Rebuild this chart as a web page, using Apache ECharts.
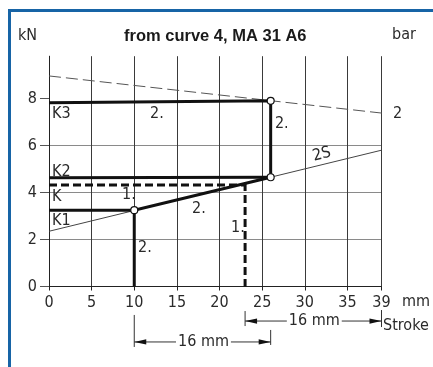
<!DOCTYPE html>
<html>
<head>
<meta charset="utf-8">
<script src="https://cdn.jsdelivr.net/npm/echarts@6/dist/echarts.min.js"></script>
<style>
  html, body { margin: 0; padding: 0; background: #fff; }
  #chart { width: 433px; height: 367px; }
</style>
</head>
<body>
<div id="chart"></div>
<script>
// Stroke axis (mm) and force axis (kN) ticks
const strokeTicks = [0, 5, 10, 15, 20, 25, 30, 35, 39];
const forceTicks = [0, 2, 4, 6, 8];

// Characteristic lines
const pressureLine = [[0, 8.96], [40, 7.34]];   // 2 bar line (thin dashed)
const springLine2S = [[0, 2.35], [39, 5.8]];    // 2S line (thin solid)

// Force paths (thick)
const pathK3 = [[0, 7.82], [26, 7.9], [26, 4.65]];
const pathK2 = [[0, 4.63], [26, 4.65]];
const pathK1 = [[0, 3.25], [10, 3.25], [26, 4.65]];
const dropK1 = [[10, 3.25], [10, 0]];
const pathK = [[0, 4.32], [23, 4.32]];
const dropK = [[23, 4.4], [23, 0]];
const knots = [[10, 3.25], [26, 4.65], [26, 7.9]];

// Annotations anchored in chart units: [stroke, force, text, rotation]
const tags = [
  [0.35, 7.34, 'K3', 0],
  [11.85, 7.34, '2.', 0],
  [26.5, 6.91, '2.', 0],
  [0.35, 4.87, 'K2', 0],
  [0.35, 3.81, 'K', 0],
  [8.56, 3.89, '1.', 0],
  [0.35, 2.79, 'K1', 0],
  [16.77, 3.30, '2.', 0],
  [10.44, 1.64, '2.', 0],
  [21.35, 2.49, '1.', 0],
  [32.0, 5.62, '2S', 14],
  [40.35, 7.34, '2', 0]
];

// Dimension spans below the stroke axis: [from, to, force level, text]
const spans = [
  [23, 39, -1.47, '16 mm'],
  [10, 26, -2.36, '16 mm']
];
// tick extents (px above, px below the dimension line) for each span end
const spanTicks = [
  [[10, 5], [11, 6]],
  [[27, 5], [12, 3]]
];

const FONT = '"Liberation Sans Narrow", "DejaVu Sans Condensed", "Liberation Sans", sans-serif';
const INK = '#2a2a2a';

const chart = echarts.init(document.getElementById('chart'), null, { renderer: 'canvas' });

function thick(data, dashed) {
  return {
    type: 'line', data: data, symbol: 'none', silent: true, z: 5,
    lineStyle: { color: '#111', width: 3, type: dashed ? [8, 4] : 'solid', cap: 'butt', join: 'miter' }
  };
}

chart.setOption({
  animation: false,
  grid: { left: 49, right: 51.5, top: 56.2, bottom: 80.5 },
  xAxis: {
    type: 'value', min: 0, max: 39, interval: 5,
    axisLine: { show: true, lineStyle: { color: '#222', width: 1 } },
    axisTick: { show: true, length: 4, lineStyle: { color: '#222' } },
    axisLabel: { margin: 8, color: INK, fontFamily: FONT, fontSize: 16, customValues: strokeTicks },
    splitLine: { show: true, lineStyle: { color: '#3a3a3a', width: 1 } }
  },
  yAxis: {
    type: 'value', min: 0, max: 9.8, interval: 2,
    axisLine: { show: true, lineStyle: { color: '#222', width: 1 } },
    axisTick: { show: true, length: 9, lineStyle: { color: '#555' }, customValues: forceTicks },
    axisLabel: { margin: 12, color: INK, fontFamily: FONT, fontSize: 16, customValues: forceTicks },
    splitLine: { show: true, showMaxLine: false, lineStyle: { color: '#8a8a8a', width: 1 } }
  },
  graphic: [
    { type: 'rect', shape: { x: 8, y: 9, width: 425, height: 3 }, style: { fill: '#1764a6' }, silent: true },
    { type: 'rect', shape: { x: 8, y: 9, width: 3, height: 358 }, style: { fill: '#1764a6' }, silent: true },
    { type: 'text', left: 124, top: 28, style: { text: 'from curve 4, MA 31 A6', fontFamily: '"Liberation Sans", Arial, sans-serif', fontWeight: 'bold', fontSize: 16.5, fill: '#1a1a1a' } },
    { type: 'text', left: 18, top: 28, style: { text: 'kN', fontFamily: FONT, fontSize: 16, fill: INK } },
    { type: 'text', left: 392, top: 27, style: { text: 'bar', fontFamily: FONT, fontSize: 16, fill: INK } },
    { type: 'text', left: 402, top: 294, style: { text: 'mm', fontFamily: FONT, fontSize: 16, fill: INK } },
    { type: 'text', left: 383, top: 318, style: { text: 'Stroke', fontFamily: FONT, fontSize: 16, fill: INK } }
  ],
  series: [
    {
      type: 'line', data: pressureLine, symbol: 'none', silent: true, clip: false, z: 3,
      lineStyle: { color: '#555', width: 1, type: [12, 5] }
    },
    {
      type: 'line', data: springLine2S, symbol: 'none', silent: true, z: 3,
      lineStyle: { color: '#444', width: 1 }
    },
    thick(pathK3), thick(pathK2), thick(pathK1), thick(dropK1),
    thick(pathK, true), thick(dropK, true),
    {
      type: 'scatter', data: knots, symbol: 'circle', symbolSize: 7, silent: true, z: 10,
      itemStyle: { color: '#fff', borderColor: '#111', borderWidth: 1.2, opacity: 1 }
    },
    {
      type: 'custom', data: tags, clip: false, silent: true, z: 12,
      renderItem: function (params, api) {
        const p = api.coord([api.value(0), api.value(1)]);
        const t = tags[params.dataIndex];
        return {
          type: 'text', x: p[0], y: p[1], rotation: t[3] * Math.PI / 180,
          style: { text: t[2], fontFamily: FONT, fontSize: 16, fill: INK, align: t[3] ? 'center' : 'left', verticalAlign: 'middle' }
        };
      }
    },
    {
      type: 'custom', data: spans, clip: false, silent: true, z: 12,
      renderItem: function (params, api) {
        const s = spans[params.dataIndex];
        const tk = spanTicks[params.dataIndex];
        const a = api.coord([s[0], s[2]]);
        const b = api.coord([s[1], s[2]]);
        const y = a[1];
        const ah = 12, aw = 2.6;
        const stroke = { stroke: '#333', lineWidth: 1 };
        return {
          type: 'group',
          children: [
            { type: 'line', shape: { x1: a[0], y1: y, x2: b[0], y2: y }, style: stroke },
            { type: 'line', shape: { x1: a[0], y1: y - tk[0][0], x2: a[0], y2: y + tk[0][1] }, style: stroke },
            { type: 'line', shape: { x1: b[0], y1: y - tk[1][0], x2: b[0], y2: y + tk[1][1] }, style: stroke },
            { type: 'polygon', shape: { points: [[a[0], y], [a[0] + ah, y - aw], [a[0] + ah, y + aw]] }, style: { fill: '#111' } },
            { type: 'polygon', shape: { points: [[b[0], y], [b[0] - ah, y - aw], [b[0] - ah, y + aw]] }, style: { fill: '#111' } },
            {
              type: 'text', x: (a[0] + b[0]) / 2 + 1, y: y,
              style: { text: s[3], fontFamily: FONT, fontSize: 16, fill: INK, align: 'center', verticalAlign: 'middle', backgroundColor: '#fff', padding: [0, 2] }
            }
          ]
        };
      }
    }
  ]
});
</script>
</body>
</html>
